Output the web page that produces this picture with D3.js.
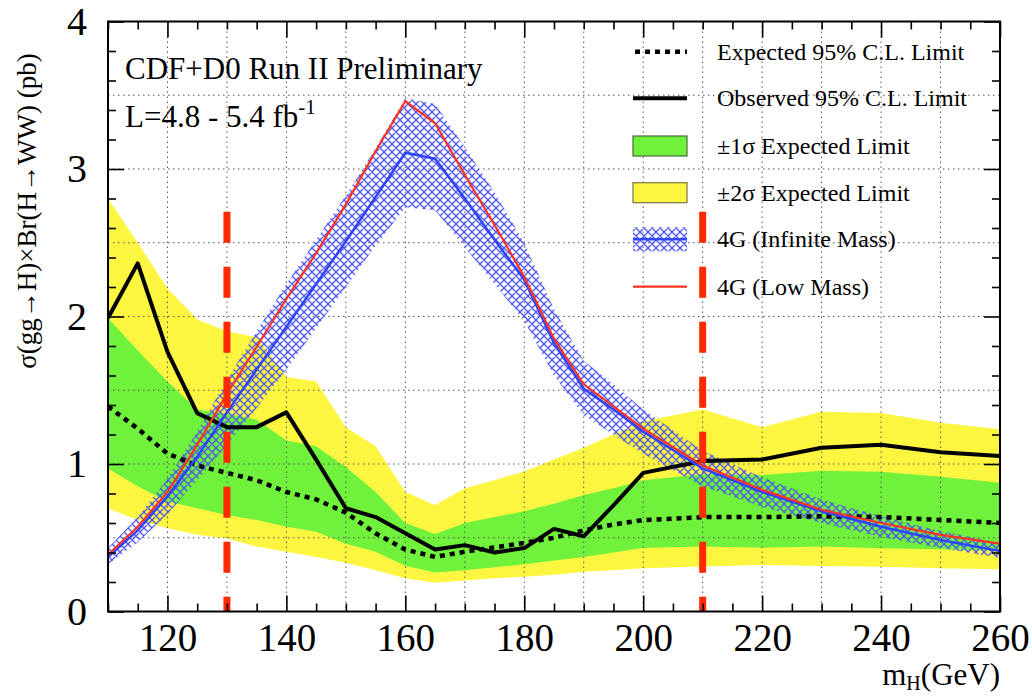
<!DOCTYPE html>
<html><head><meta charset="utf-8">
<script src="https://cdn.jsdelivr.net/npm/d3@7"></script>
<style>
body{margin:0;background:#fff}
svg{display:block}
text{font-family:"Liberation Serif","Times New Roman",serif;fill:#000}
</style>
</head><body>
<svg id="chart" width="1032" height="698"></svg>
<script>
// ---------- data ----------
const masses    = [110,115,120,125,130,135,140,145,150,155,160,165,170,175,180,185,190,195,200,210,220,230,240,250,260];
const observed  = [1.99,2.36,1.76,1.345,1.25,1.25,1.35,1.03,0.70,0.64,0.53,0.42,0.45,0.40,0.43,0.56,0.51,0.72,0.94,1.02,1.03,1.11,1.13,1.08,1.055];
const expected  = [1.39,1.24,1.07,0.99,0.94,0.89,0.81,0.76,0.67,0.53,0.42,0.37,0.405,0.435,0.465,0.50,0.55,0.59,0.62,0.64,0.64,0.645,0.64,0.62,0.60];
const sig1Up    = [1.99,1.77,1.56,1.37,1.34,1.30,1.16,1.12,0.98,0.81,0.60,0.525,0.60,0.64,0.68,0.73,0.79,0.835,0.89,0.93,0.925,0.955,0.948,0.914,0.873];
const sig1Down  = [0.97,0.85,0.745,0.70,0.655,0.62,0.575,0.54,0.46,0.405,0.31,0.265,0.28,0.30,0.32,0.345,0.37,0.40,0.43,0.44,0.433,0.44,0.428,0.422,0.412];
const sig2Up    = [2.80,2.50,2.19,1.98,1.90,1.86,1.59,1.56,1.25,1.12,0.81,0.72,0.835,0.89,0.95,1.03,1.11,1.20,1.29,1.37,1.25,1.355,1.345,1.28,1.235];
const sig2Down  = [0.70,0.62,0.565,0.52,0.495,0.44,0.405,0.37,0.33,0.28,0.225,0.195,0.21,0.225,0.236,0.25,0.27,0.28,0.293,0.305,0.315,0.308,0.304,0.293,0.286];
const g4Inf     = [0.37,0.55,0.78,1.05,1.35,1.64,1.93,2.22,2.51,2.81,3.11,3.07,2.80,2.52,2.25,1.82,1.51,1.37,1.22,0.97,0.81,0.68,0.575,0.485,0.41];
const g4InfUp   = [0.43,0.64,0.90,1.22,1.57,1.90,2.22,2.52,2.82,3.14,3.48,3.44,3.15,2.84,2.50,2.05,1.70,1.54,1.37,1.09,0.91,0.76,0.645,0.545,0.465];
const g4InfDown = [0.32,0.47,0.66,0.89,1.13,1.38,1.64,1.92,2.20,2.48,2.74,2.72,2.47,2.22,1.97,1.60,1.33,1.20,1.07,0.85,0.71,0.60,0.505,0.43,0.365];
const g4Low     = [0.385,0.575,0.81,1.13,1.475,1.795,2.12,2.43,2.76,3.12,3.46,3.31,2.96,2.62,2.27,1.85,1.54,1.39,1.24,0.99,0.825,0.69,0.60,0.52,0.46];
const excludedEdges = [130,210];
const excludedTop = 2.71;
const xTickLabels = [120,140,160,180,200,220,240,260];
const yTickLabels = [0,1,2,3,4];
const legendLabels = ["Expected 95% C.L. Limit","Observed 95% C.L. Limit","\u00B11\u03C3 Expected Limit","\u00B12\u03C3 Expected Limit","4G (Infinite Mass)","4G (Low Mass)"];

// ---------- setup ----------
const svg = d3.select("#chart");
const L = 108, R = 1000, T = 21.5, B = 611.5;
const x = d3.scaleLinear().domain([110,260]).range([L,R]);
const y = d3.scaleLinear().domain([0,4]).range([B,T]);

const COL_GREEN = "#70f23c", COL_YELLOW = "#fcf641", COL_BLUE = "#2f46ff", COL_HATCH = "#4a55f2", COL_RED = "#ff3322", COL_DASH = "#ff2a00";

const defs = svg.append("defs");
defs.append("clipPath").attr("id","plotclip").append("rect")
  .attr("x",L).attr("y",T).attr("width",R-L).attr("height",B-T);
const pat = defs.append("pattern").attr("id","hatch").attr("patternUnits","userSpaceOnUse")
  .attr("width",8).attr("height",8);
pat.append("path").attr("d","M0,0L8,8M8,0L0,8M-1,7L1,9M7,-1L9,1M-1,1L1,-1M7,9L9,7")
  .attr("stroke",COL_HATCH).attr("stroke-width",1.3).attr("fill","none");

const rows = masses.map((m,i)=>({m, obs:observed[i], exp:expected[i], s1u:sig1Up[i], s1d:sig1Down[i],
  s2u:sig2Up[i], s2d:sig2Down[i], inf:g4Inf[i], infu:g4InfUp[i], infd:g4InfDown[i], low:g4Low[i]}));

const plot = svg.append("g").attr("clip-path","url(#plotclip)");

const area = (lo,hi)=>d3.area().x(d=>x(d.m)).y0(d=>y(d[lo])).y1(d=>y(d[hi]));
const line = (k)=>d3.line().x(d=>x(d.m)).y(d=>y(d[k]));

plot.append("path").datum(rows).attr("d",area("s2d","s2u")).attr("fill",COL_YELLOW);
plot.append("path").datum(rows).attr("d",area("s1d","s1u")).attr("fill",COL_GREEN);

// grid
const gridG = plot.append("g").attr("stroke","#555").attr("stroke-width",1).attr("stroke-dasharray","1.5,3.5");
d3.range(120,260,10).forEach(v=>gridG.append("line").attr("x1",x(v)).attr("x2",x(v)).attr("y1",T).attr("y2",B));
d3.range(0.5,4,0.5).forEach(v=>gridG.append("line").attr("x1",L).attr("x2",R).attr("y1",y(v)).attr("y2",y(v)));

plot.append("path").datum(rows).attr("d",area("infd","infu")).attr("fill","url(#hatch)");

plot.append("path").datum(rows).attr("d",line("exp")).attr("fill","none").attr("stroke","#000")
  .attr("stroke-width",4.5).attr("stroke-dasharray","5,5");
plot.append("path").datum(rows).attr("d",line("obs")).attr("fill","none").attr("stroke","#000")
  .attr("stroke-width",4).attr("stroke-linejoin","round");
plot.append("path").datum(rows).attr("d",line("inf")).attr("fill","none").attr("stroke",COL_BLUE)
  .attr("stroke-width",2.6);
plot.append("path").datum(rows).attr("d",line("low")).attr("fill","none").attr("stroke",COL_RED)
  .attr("stroke-width",2.2);

// excluded region edges
excludedEdges.forEach(m=>{
  plot.append("line").attr("x1",x(m)).attr("x2",x(m)).attr("y1",y(excludedTop)).attr("y2",y(0)+4)
    .attr("stroke",COL_DASH).attr("stroke-width",7).attr("stroke-dasharray","31,24");
});

// ---------- axes ----------
const xMinor = d3.range(110,261,5).filter(v=>v%20!==0);
const yMinor = d3.range(0,4.01,0.2).map(v=>+v.toFixed(1)).filter(v=>Math.abs(v-Math.round(v))>1e-6);
const styleAxis = g=>{ g.attr("font-family",null); g.select(".domain").remove(); g.selectAll(".tick line").attr("stroke","#000").attr("stroke-width",1.6); };

svg.append("g").attr("transform",`translate(0,${B})`)
  .call(d3.axisBottom(x).tickValues(xTickLabels).tickSize(-16).tickPadding(12).tickFormat(d3.format("d")))
  .call(styleAxis)
  .call(g=>g.selectAll("text").attr("font-size",39));
svg.append("g").attr("transform",`translate(0,${B})`)
  .call(d3.axisBottom(x).tickValues(xMinor).tickSize(-8).tickFormat(""))
  .call(styleAxis);
svg.append("g").attr("transform",`translate(0,${T})`)
  .call(d3.axisTop(x).tickValues(xTickLabels).tickSize(-16).tickFormat(""))
  .call(styleAxis);
svg.append("g").attr("transform",`translate(0,${T})`)
  .call(d3.axisTop(x).tickValues(xMinor).tickSize(-8).tickFormat(""))
  .call(styleAxis);

svg.append("g").attr("transform",`translate(${L},0)`)
  .call(d3.axisLeft(y).tickValues(yTickLabels).tickSize(-16).tickPadding(21).tickFormat(d3.format("d")))
  .call(styleAxis)
  .call(g=>g.selectAll("text").attr("font-size",40));
svg.append("g").attr("transform",`translate(${L},0)`)
  .call(d3.axisLeft(y).tickValues(yMinor).tickSize(-8).tickFormat(""))
  .call(styleAxis);
svg.append("g").attr("transform",`translate(${R},0)`)
  .call(d3.axisRight(y).tickValues(yTickLabels).tickSize(-16).tickFormat(""))
  .call(styleAxis);
svg.append("g").attr("transform",`translate(${R},0)`)
  .call(d3.axisRight(y).tickValues(yMinor).tickSize(-8).tickFormat(""))
  .call(styleAxis);

// frame
svg.append("rect").attr("x",L).attr("y",T).attr("width",R-L).attr("height",B-T)
  .attr("fill","none").attr("stroke","#000").attr("stroke-width",2);

// axis titles
const yt = svg.append("text").attr("transform","translate(36,211) rotate(-90)")
  .attr("text-anchor","middle").attr("font-size",27);
yt.text("\u03C3(gg\u2192H)\u00D7Br(H\u2192WW) (pb)");

const xt = svg.append("text").attr("x",1000).attr("y",685).attr("text-anchor","end").attr("font-size",31);
xt.append("tspan").text("m");
xt.append("tspan").attr("font-size",20).attr("dy",5).text("H");
xt.append("tspan").attr("dy",-5).text("(GeV)");

// labels
svg.append("text").attr("x",125).attr("y",79).attr("font-size",31).text("CDF+D0 Run II Preliminary");
const lum = svg.append("text").attr("x",125).attr("y",127).attr("font-size",31);
lum.append("tspan").text("L=4.8 - 5.4 fb");
lum.append("tspan").attr("font-size",21).attr("dy",-13).text("-1");

// ---------- legend ----------
const legY = [51.7,98.3,146,192.7,239.3,286.7];
const lg = svg.append("g");
const sx0 = 633, sx1 = 687;
lg.append("line").attr("x1",sx0+2).attr("x2",sx1).attr("y1",legY[0]).attr("y2",legY[0])
  .attr("stroke","#000").attr("stroke-width",4.5).attr("stroke-dasharray","5,5");
lg.append("line").attr("x1",sx0).attr("x2",sx1).attr("y1",legY[1]).attr("y2",legY[1])
  .attr("stroke","#000").attr("stroke-width",4);
lg.append("rect").attr("x",sx0).attr("y",legY[2]-10).attr("width",sx1-sx0).attr("height",20)
  .attr("fill",COL_GREEN).attr("stroke","#4b6b3a").attr("stroke-width",1.2);
lg.append("rect").attr("x",sx0).attr("y",legY[3]-10).attr("width",sx1-sx0).attr("height",20)
  .attr("fill",COL_YELLOW).attr("stroke","#7a7440").attr("stroke-width",1.2);
lg.append("rect").attr("x",sx0).attr("y",legY[4]-12).attr("width",sx1-sx0).attr("height",24)
  .attr("fill","url(#hatch)");
lg.append("line").attr("x1",sx0).attr("x2",sx1).attr("y1",legY[4]).attr("y2",legY[4])
  .attr("stroke",COL_BLUE).attr("stroke-width",2.6);
lg.append("line").attr("x1",sx0).attr("x2",sx1).attr("y1",legY[5]).attr("y2",legY[5])
  .attr("stroke",COL_RED).attr("stroke-width",2.2);
legendLabels.forEach((t,i)=>{
  lg.append("text").attr("x",717).attr("y",legY[i]+8).attr("font-size",24).text(t);
});
</script>
</body></html>
